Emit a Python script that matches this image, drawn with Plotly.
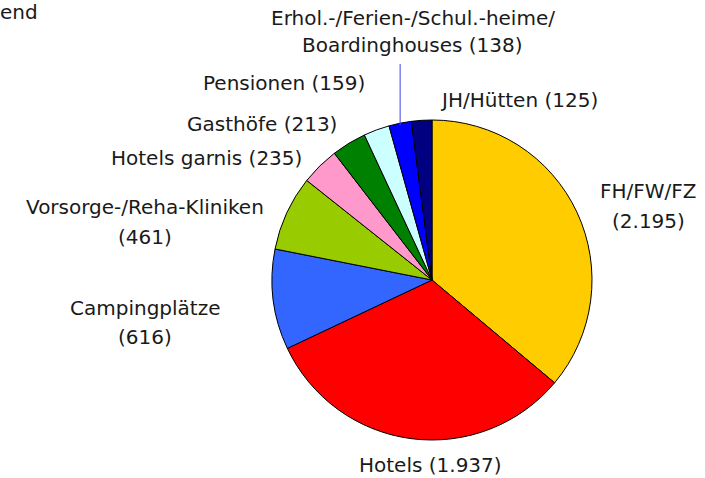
import math
import plotly.graph_objects as go

categories = ["FH/FW/FZ", "Hotels", "Campingplätze", "Vorsorge-/Reha-Kliniken",
              "Hotels garnis", "Gasthöfe", "Pensionen",
              "Erhol.-/Ferien-/Schul.-heime/ Boardinghouses", "JH/Hütten"]
values = [2195, 1937, 616, 461, 235, 213, 159, 138, 125]
value_labels = ["2.195", "1.937", "616", "461", "235", "213", "159", "138", "125"]
colors = ["#FFCC00", "#FF0000", "#3366FF", "#99CC00", "#FF99CC",
          "#008000", "#CCFFFF", "#0000FF", "#000080"]

W, H = 705, 478
cx, cy, r = 432, 280, 160

fig = go.Figure(go.Pie(
    labels=categories, values=values, sort=False, direction="clockwise",
    rotation=0, marker=dict(colors=colors, line=dict(color="black", width=1)),
    textinfo="none", hoverinfo="label+value", showlegend=False,
    domain=dict(x=[(cx - r) / W, (cx + r) / W], y=[1 - (cy + r) / H, 1 - (cy - r) / H]),
))

font = dict(family="DejaVu Sans", size=20, color="#1a1a1a")

# label lines: (text, x_px, y_px)
label_lines = [
    ("Erhol.-/Ferien-/Schul.-heime/", 413, 18),
    ("Boardinghouses (%s)" % value_labels[7], 413, 45),
    ("Pensionen (%s)" % value_labels[6], 284, 83),
    ("JH/Hütten (%s)" % value_labels[8], 519, 100),
    ("Gasthöfe (%s)" % value_labels[5], 262, 124),
    ("Hotels garnis (%s)" % value_labels[4], 207, 158),
    ("Vorsorge-/Reha-Kliniken", 145, 207),
    ("(%s)" % value_labels[3], 145, 237),
    ("Campingplätze", 145, 308),
    ("(%s)" % value_labels[2], 145, 337),
    ("Hotels (%s)" % value_labels[1], 430, 465),
    ("FH/FW/FZ", 648, 191),
    ("(%s)" % value_labels[0], 648, 221),
    ("end", 19, 12),
]
for text, x, y in label_lines:
    fig.add_annotation(text=text, x=x / W, y=1 - y / H, xref="paper", yref="paper",
                       showarrow=False, xanchor="center", yanchor="middle", font=font)

# leader line for Erhol slice, from slice midpoint upward
total = sum(values)
start = sum(values[:7])
mid_angle = (start + values[7] / 2) / total * 2 * math.pi
px = cx + r * math.sin(mid_angle)
py = cy - r * math.cos(mid_angle)
fig.add_shape(type="line", xref="paper", yref="paper",
              x0=px / W, x1=px / W, y0=1 - (py + 2) / H, y1=1 - 64 / H,
              line=dict(color="#4444EE", width=1))

fig.update_layout(width=W, height=H, margin=dict(l=0, r=0, t=0, b=0),
                  paper_bgcolor="white", plot_bgcolor="white")
fig.write_html("out.html", config={"displayModeBar": False},
               post_script="document.body.style.margin='0';")
